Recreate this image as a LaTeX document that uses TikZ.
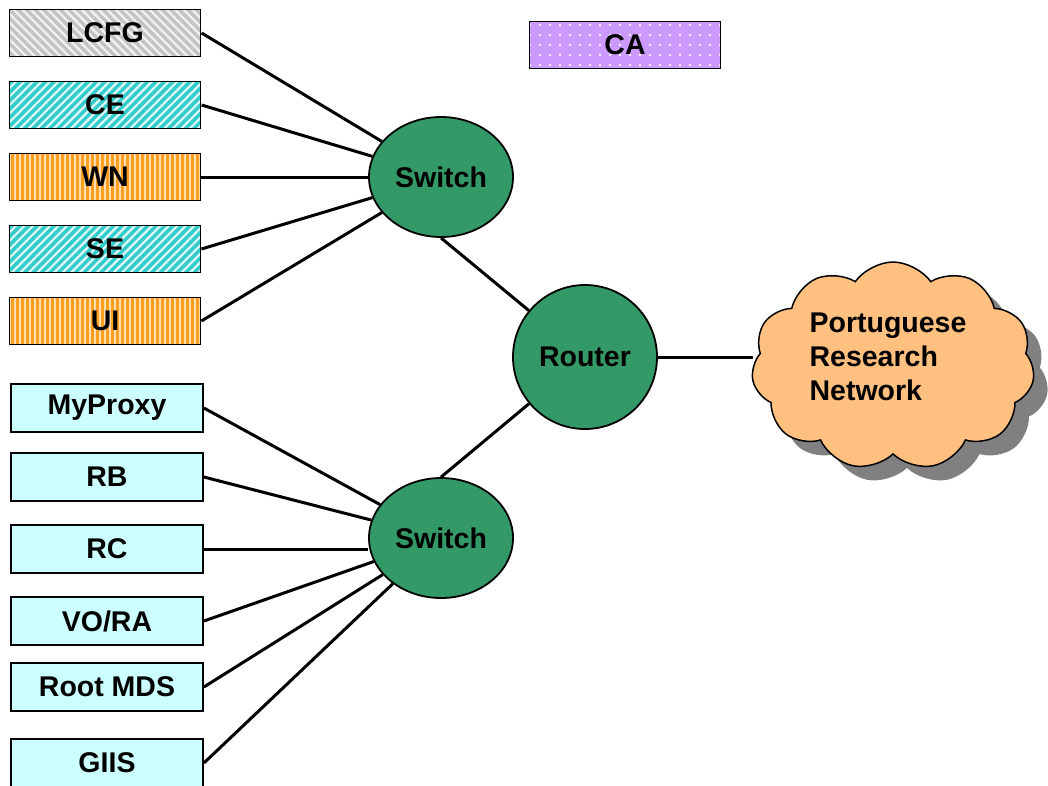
\documentclass[tikz,border=0pt]{standalone}
\usepackage{fontspec}
\setmainfont{Liberation Sans}
\usetikzlibrary{positioning, shapes.symbols, shapes.geometric, shadows, patterns.meta}
\definecolor{gdgray}{HTML}{C4C4C4}
\definecolor{gdcyan}{HTML}{33CCCC}
\definecolor{gdorange}{HTML}{FFA020}
\definecolor{gdpurple}{HTML}{CC99FF}
\definecolor{gdpale}{HTML}{CCFFFF}
\definecolor{gdgreen}{HTML}{339966}
\definecolor{gdcloud}{HTML}{FFC080}
\definecolor{gdshadow}{HTML}{808080}

\begin{document}
\begin{tikzpicture}[x=1pt, y=-1pt,
  every node/.style={font=\fontsize{28.5}{34}\selectfont\bfseries},
  box/.style={rectangle, draw, line width=1.8pt, minimum width=191pt, minimum height=47pt, inner sep=0pt},
  graybox/.style={box, preaction={fill=gdgray}, pattern={Lines[angle=-45, distance=6pt, line width=2.2pt]}, pattern color=white!80!gdgray},
  cyanbox/.style={box, preaction={fill=gdcyan}, pattern={Lines[angle=45, distance=6pt, line width=2.2pt]}, pattern color=white!85!gdcyan},
  orangebox/.style={box, preaction={fill=gdorange}, pattern={Lines[angle=90, distance=5pt, line width=1.6pt]}, pattern color=white!65!gdorange},
  dotbox/.style={box, preaction={fill=gdpurple}, pattern={Dots[distance=10pt, radius=1.3pt]}, pattern color=white!85!gdpurple},
  palebox/.style={box, fill=gdpale, minimum width=192pt, minimum height=48pt},
  hub/.style={ellipse, draw, line width=1.8pt, fill=gdgreen, minimum width=144pt, minimum height=120pt, inner sep=0pt},
  link/.style={line width=3pt},
]
\useasboundingbox (0,0) rectangle (1048,785);

% Grid nodes
\node[graybox] (lcfg) at (105,33) {LCFG};
\node[cyanbox] (ce) at (105,105) {CE};
\node[orangebox] (wn) at (105,177) {WN};
\node[cyanbox] (se) at (105,249) {SE};
\node[orangebox] (ui) at (105,321) {UI};
\node[dotbox] (ca) at (625,45) {CA};

% Services
\node[palebox] (myproxy) at (107,408) {MyProxy};
\node[palebox] (rb) at (107,477) {RB};
\node[palebox] (rc) at (107,549) {RC};
\node[palebox] (vora) at (107,621) {VO/RA};
\node[palebox] (rootmds) at (107,687) {Root MDS};
\node[palebox] (giis) at (107,763) {GIIS};

% Network
\node[hub] (sw1) at (441,177) {Switch};
\node[hub] (sw2) at (441,538) {Switch};
\node[hub, minimum height=144pt] (router) at (585,357) {Router};
\node[cloud, cloud puffs=11, cloud puff arc=110, aspect=1.35, draw, line width=1.5pt, fill=gdcloud,
      minimum width=283pt, minimum height=208pt,
      drop shadow={shadow xshift=14pt, shadow yshift=-14pt, fill=gdshadow, opacity=1}] (prn) at (893,366) {};
\node[align=left] (prntext) at (888,357) {Portuguese\\Research\\Network};

% Links
\foreach \n in {lcfg, ce, wn, se, ui}
  \draw[link] (\n.east) -- (sw1);
\foreach \n in {myproxy, rb, vora, rootmds, giis}
  \draw[link] (\n.east) -- (sw2);
\draw[link] (rc.east) -- (rc.east -| sw2.west);
\draw[link] (sw1.south) -- (router);
\draw[link] (sw2.north) -- (router);
\draw[link] (router.east) -- (router.east -| prn.west);
\end{tikzpicture}
\end{document}
